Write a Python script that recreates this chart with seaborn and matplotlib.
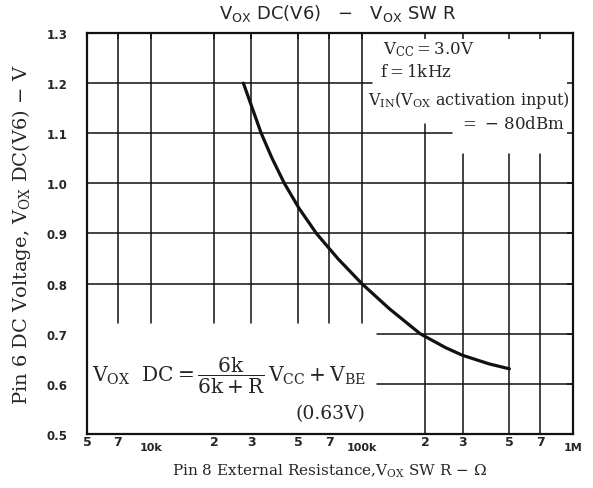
import matplotlib
matplotlib.use("Agg")
import matplotlib.pyplot as plt
import matplotlib.transforms as mtransforms
from matplotlib.ticker import NullLocator
import numpy as np
import pandas as pd
import seaborn as sns

# curve
resistance = [27.5e3, 30.3e3, 33.4e3, 37.6e3, 43e3, 50.5e3, 61e3, 77e3, 100e3,
              135e3, 189e3, 250e3, 300e3, 400e3, 500e3]
voltage = [1.20, 1.15, 1.10, 1.05, 1.00, 0.95, 0.90, 0.85, 0.80,
           0.75, 0.70, 0.672, 0.657, 0.64, 0.63]

x_ticks = [5e3, 7e3, 1e4, 2e4, 3e4, 5e4, 7e4, 1e5, 2e5, 3e5, 5e5, 7e5, 1e6]
x_labels = ["5", "7", "10k", "2", "3", "5", "7", "100k", "2", "3", "5", "7", "1M"]
y_ticks = [0.5, 0.6, 0.7, 0.8, 0.9, 1.0, 1.1, 1.2, 1.3]
y_labels = ["0.5", "0.6", "0.7", "0.8", "0.9", "1.0", "1.1", "1.2", "1.3"]

sns.set_style("white")
plt.rcParams['font.family'] = ['DejaVu Serif']
plt.rcParams['mathtext.fontset'] = 'dejavuserif'

df = pd.DataFrame({"R": resistance, "V": voltage})

fig = plt.figure(figsize=(5.93, 4.89), dpi=100)
ax = fig.add_axes([0.1467, 0.1104, 0.8196, 0.8201])

ink = "#111111"
ax.set_xscale("log")
ax.set_xlim(5e3, 1e6)
ax.set_ylim(0.5, 1.3)

# broken grid like the printed chart
for y in [1.0, 0.9, 0.8]:
    ax.axhline(y, color=ink, lw=1.1)
ax.axhline(1.2, xmin=0, xmax=0.586, color=ink, lw=1.1)
ax.axhline(1.1, xmin=0, xmax=0.751, color=ink, lw=1.1)
ax.axhline(0.7, xmin=0.597, xmax=1, color=ink, lw=1.1)
ax.axhline(0.6, xmin=0.597, xmax=1, color=ink, lw=1.1)
for x in [7e3, 1e4, 2e4, 3e4, 5e4, 7e4, 1e5]:
    ax.axvline(x, ymin=0.2775, ymax=1, color=ink, lw=1.1)
ax.axvline(2e5, ymin=0, ymax=0.7725, color=ink, lw=1.1)
for x in [3e5, 5e5, 7e5]:
    ax.axvline(x, ymin=0, ymax=0.6975, color=ink, lw=1.1)

sns.lineplot(data=df, x="R", y="V", ax=ax, color=ink, lw=2.3, zorder=5)

for s in ax.spines.values():
    s.set_color(ink)
    s.set_linewidth(1.6)

ax.xaxis.set_minor_locator(NullLocator())
ax.set_xticks(x_ticks)
ax.set_xticklabels(x_labels, family="DejaVu Sans", fontweight="bold", fontsize=9)
ax.set_yticks(y_ticks)
ax.set_yticklabels(y_labels, family="DejaVu Sans", fontweight="bold", fontsize=8.5)
ax.tick_params(axis="both", direction="in", length=4, width=1.1, color=ink,
               top=True, right=True)
ax.tick_params(axis="x", pad=1)
ax.tick_params(axis="y", pad=14)

shift = mtransforms.ScaledTranslation(0, -5 / 72, fig.dpi_scale_trans)
for lab in ax.get_xticklabels():
    if lab.get_text() in ("10k", "100k", "1M"):
        lab.set_fontsize(8)
        lab.set_transform(lab.get_transform() + shift)

ax.set_xlabel(r"Pin 8 External Resistance,$\mathrm{V_{OX}}$ SW R $-$ $\Omega$",
              fontsize=11, labelpad=7)
ax.set_ylabel(r"Pin 6 DC Voltage, $\mathrm{V_{OX}}$ DC(V6) $-$ V", fontsize=14, labelpad=10)

fig.text(0.57, 0.972, r"$\mathsf{V_{OX}}$ DC(V6)   $-$   $\mathsf{V_{OX}}$ SW R",
         family="DejaVu Sans", fontsize=13, ha="center", va="center")

tr = ax.transAxes
ax.text(0.609, 0.96, r"$\mathrm{V_{CC}}$$=$3.0V", transform=tr, fontsize=12, va="center")
ax.text(0.603, 0.905, r"f$=$1kHz", transform=tr, fontsize=12, va="center")
ax.text(0.994, 0.835, r"$\mathrm{V_{IN}}$($\mathrm{V_{OX}}$ activation input)",
        transform=tr, fontsize=11.5, ha="right", va="center")
ax.text(0.984, 0.775, r"$=$ $-$ 80dBm", transform=tr, fontsize=12, ha="right", va="center")
ax.text(0.01, 0.1475,
        r"$\mathrm{V_{OX}\ \ DC}=\dfrac{\mathrm{6k}}{\mathrm{6k+R}}\,\mathrm{V_{CC}}+\mathrm{V_{BE}}$",
        transform=tr, fontsize=14.5, va="center")
ax.text(0.5, 0.0525, "(0.63V)", transform=tr, fontsize=13.5, ha="center", va="center")

fig.savefig("out.png", dpi=100, facecolor="white")
